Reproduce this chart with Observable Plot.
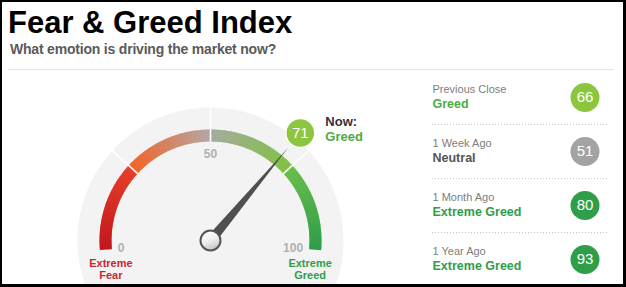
<!DOCTYPE html>
<html>
<head>
<meta charset="utf-8">
<script src="https://cdn.jsdelivr.net/npm/d3@7"></script>
<script src="https://cdn.jsdelivr.net/npm/@observablehq/plot@0.6"></script>
<style>
  html, body { margin: 0; padding: 0; background: #fff; }
  #card { position: relative; width: 626px; height: 287px; overflow: hidden; background: #fff;
          font-family: "Liberation Sans", Arial, sans-serif; }
  #frame { position: absolute; left: 0; top: 0; width: 626px; height: 287px; box-sizing: border-box;
           border-style: solid; border-color: #000; border-width: 2px 3px 3px 2px; pointer-events: none; z-index: 5; }
  #title { position: absolute; left: 8px; top: 7.1px; font-size: 31px; line-height: 31px; font-weight: bold;
           color: #000; white-space: nowrap; }
  #subtitle { position: absolute; left: 10px; top: 41.5px; font-size: 14px; line-height: 14px; font-weight: bold;
              color: #5a5a5a; letter-spacing: -0.2px; white-space: nowrap; }
  #rule { position: absolute; left: 8px; top: 69px; width: 606px; height: 1px; background: #e6e6e6; }
  #gauge { position: absolute; left: 0; top: 70px; }
  #history { position: absolute; left: 420px; top: 70px; }
</style>
</head>
<body>
<div id="card">
  <div id="title">Fear &amp; Greed Index</div>
  <div id="subtitle">What emotion is driving the market now?</div>
  <div id="rule"></div>
  <div id="gauge"></div>
  <div id="history"></div>
  <div id="frame"></div>
</div>
<script>
// ---- data ----
const zoneBounds = [0, 25, 50, 75, 100];
const gaugeTicks = [0, 50, 100];
const ratingNames = ["Extreme Fear", "Fear", "Neutral", "Greed", "Extreme Greed"];
const ratingThresholds = [25, 45, 55, 75];
const currentValue = 71;
const historyPeriods = ["Previous Close", "1 Week Ago", "1 Month Ago", "1 Year Ago"];
const historyValues = [66, 51, 80, 93];

// ---- styles ----
const FONT = "'Liberation Sans', Arial, sans-serif";
const zoneColors = [
  ["#c3161f", "#e6402a"],
  ["#f26424", "#b5a6a4"],
  ["#a6ab9e", "#80c242"],
  ["#6abf4c", "#2e9d48"]
];
const bubbleColor = {
  "Extreme Fear": "#c8202a", "Fear": "#f26522", "Neutral": "#a3a3a3",
  "Greed": "#8cc63f", "Extreme Greed": "#2f9e48"
};
const ratingTextColor = {
  "Extreme Fear": "#c62833", "Fear": "#e8562a", "Neutral": "#555555",
  "Greed": "#4dab45", "Extreme Greed": "#2f9e48"
};

const rating = d3.scaleThreshold().domain(ratingThresholds).range(ratingNames);

// ---- gauge geometry ----
const GW = 420, GH = 217;       // gauge svg size
const CX = 210, CY = 170;       // pivot inside the gauge svg
const START = 185, SPAN = 190;  // degrees: value 0 sits slightly below the left horizontal
const R_BG = 133, R_IN = 99, R_OUT = 111, R_NEEDLE = 121, R_BUBBLE = 140;
const rad = v => (START - SPAN * v / 100) * Math.PI / 180;
const polar = (r, v) => [r * Math.cos(rad(v)), r * Math.sin(rad(v))];

function colorAt(v) {
  let i = 0;
  while (i < zoneBounds.length - 2 && v >= zoneBounds[i + 1]) i++;
  const t = (v - zoneBounds[i]) / (zoneBounds[i + 1] - zoneBounds[i]);
  return d3.interpolateRgb(zoneColors[i][0], zoneColors[i][1])(t);
}

// background disk
const disk = d3.range(0, 361, 2).map(deg => [R_BG * Math.cos(deg * Math.PI / 180), R_BG * Math.sin(deg * Math.PI / 180)]);

// arc made of short overlapping chords
const STEP = 0.5;
const arcPieces = d3.range(zoneBounds[0], zoneBounds[zoneBounds.length - 1], STEP).map(v => ({
  v0: v, v1: Math.min(zoneBounds[zoneBounds.length - 1], v + STEP * 1.6), color: colorAt(v + STEP / 2)
}));
const R_MID = (R_IN + R_OUT) / 2;

// needle polygon
const a = rad(currentValue), HALF = 5;
const needle = [
  [HALF * Math.cos(a + Math.PI / 2), HALF * Math.sin(a + Math.PI / 2)],
  [R_NEEDLE * Math.cos(a), R_NEEDLE * Math.sin(a)],
  [HALF * Math.cos(a - Math.PI / 2), HALF * Math.sin(a - Math.PI / 2)]
];

const endLabels = [
  {v: zoneBounds[0], text: ratingNames[0]},
  {v: zoneBounds[zoneBounds.length - 1], text: ratingNames[ratingNames.length - 1]}
];

const gauge = Plot.plot({
  width: GW, height: GH,
  margin: 0,
  x: {domain: [-CX, GW - CX], range: [0, GW], axis: null},
  y: {domain: [CY - GH, CY], range: [GH, 0], axis: null},
  color: {type: "identity"},
  style: {fontFamily: FONT, background: "transparent", overflow: "visible"},
  marks: [
    Plot.line(disk, {x: d => d[0], y: d => d[1], fill: "#f3f3f3", stroke: "none"}),
    Plot.link(arcPieces, {
      x1: d => polar(R_MID, d.v0)[0], y1: d => polar(R_MID, d.v0)[1],
      x2: d => polar(R_MID, d.v1)[0], y2: d => polar(R_MID, d.v1)[1],
      stroke: d => d.color, strokeWidth: R_OUT - R_IN, strokeLinecap: "butt"
    }),
    Plot.link(zoneBounds.slice(1, -1), {
      x1: v => polar(R_IN - 0.5, v)[0], y1: v => polar(R_IN - 0.5, v)[1],
      x2: v => polar(R_BG + 1, v)[0], y2: v => polar(R_BG + 1, v)[1],
      stroke: "#ffffff", strokeWidth: 1.6
    }),
    // tick labels
    Plot.text(gaugeTicks.filter(v => v === zoneBounds[0]), {
      x: v => polar(93, v)[0], y: v => polar(93, v)[1], text: v => String(v),
      textAnchor: "start", fontSize: 12, fontWeight: "bold", fill: "#b0b0b0"
    }),
    Plot.text(gaugeTicks.filter(v => v === zoneBounds[zoneBounds.length - 1]), {
      x: v => polar(93, v)[0], y: v => polar(93, v)[1], text: v => String(v),
      textAnchor: "end", fontSize: 12, fontWeight: "bold", fill: "#b0b0b0"
    }),
    Plot.text(gaugeTicks.filter(v => v !== zoneBounds[0] && v !== zoneBounds[zoneBounds.length - 1]), {
      x: v => polar(86.5, v)[0], y: v => polar(86.5, v)[1], text: v => String(v),
      textAnchor: "middle", fontSize: 12, fontWeight: "bold", fill: "#b0b0b0"
    }),
    // extreme labels under the arc ends
    Plot.text(endLabels, {
      x: d => polar(100, d.v)[0], y: d => polar(R_MID, d.v)[1], dy: 9.25,
      text: d => d.text.replace(" ", "\n"), lineAnchor: "top", lineHeight: 1.06,
      fontSize: 11, fontWeight: "bold", fill: d => ratingTextColor[d.text]
    }),
    // needle and pivot
    Plot.line(needle, {x: d => d[0], y: d => d[1], fill: "#4f4f4f", stroke: "none"}),
    Plot.dot([[0, 0]], {x: d => d[0], y: d => d[1], r: 10, fill: "url(#pivot-fill)", stroke: "#555", strokeWidth: 2}),
    // current value bubble
    Plot.dot([currentValue], {
      x: v => polar(R_BUBBLE, v)[0], y: v => polar(R_BUBBLE, v)[1], r: 14.5,
      fill: v => bubbleColor[rating(v)], stroke: "#ffffff", strokeWidth: 1.5
    }),
    Plot.text([currentValue], {
      x: v => polar(R_BUBBLE, v)[0], y: v => polar(R_BUBBLE, v)[1],
      text: v => String(v), fill: "#ffffff", fontSize: 15
    }),
    Plot.text([currentValue], {
      x: v => polar(R_BUBBLE, v)[0], y: v => polar(R_BUBBLE, v)[1],
      text: () => "Now:", dx: 25, dy: -11.2, textAnchor: "start",
      fontSize: 13, fontWeight: "bold", fill: "#333333"
    }),
    Plot.text([currentValue], {
      x: v => polar(R_BUBBLE, v)[0], y: v => polar(R_BUBBLE, v)[1],
      text: v => rating(v), dx: 25, dy: 3.9, textAnchor: "start",
      fontSize: 13, fontWeight: "bold", fill: v => ratingTextColor[rating(v)]
    })
  ]
});

// soft shading for the pivot cap
const defs = d3.select(gauge).insert("defs", ":first-child");
const grad = defs.append("linearGradient").attr("id", "pivot-fill")
  .attr("x1", "0").attr("y1", "0").attr("x2", "0.4").attr("y2", "1");
grad.append("stop").attr("offset", "0%").attr("stop-color", "#ffffff");
grad.append("stop").attr("offset", "55%").attr("stop-color", "#f2f2f2");
grad.append("stop").attr("offset", "100%").attr("stop-color", "#c9c9c9");
document.getElementById("gauge").appendChild(gauge);

// ---- history panel ----
const history = historyPeriods.map((period, i) => ({period, value: historyValues[i]}));

const panel = Plot.plot({
  width: 206, height: 217,
  marginLeft: 12, marginRight: 17, marginTop: 0, marginBottom: 0,
  y: {type: "point", domain: historyPeriods, range: [26.7, 189.7], padding: 0, axis: null},
  color: {type: "identity"},
  style: {fontFamily: FONT, background: "transparent", overflow: "visible"},
  marks: [
    Plot.ruleY(historyPeriods.slice(0, -1), {y: d => d, dy: 27.1, stroke: "#c4c4c4", strokeDasharray: "1,2"}),
    Plot.text(history, {
      y: "period", text: "period", frameAnchor: "left", textAnchor: "start",
      dy: -8, fontSize: 11, fill: "#7d7d7d"
    }),
    Plot.text(history, {
      y: "period", text: d => rating(d.value), frameAnchor: "left", textAnchor: "start",
      dy: 6, fontSize: 12.5, fontWeight: "bold", fill: d => ratingTextColor[rating(d.value)]
    }),
    Plot.dot(history, {
      y: "period", frameAnchor: "right", dx: -24.5, r: 14.5,
      fill: d => bubbleColor[rating(d.value)]
    }),
    Plot.text(history, {
      y: "period", frameAnchor: "right", textAnchor: "middle", dx: -24.5, text: d => String(d.value),
      fill: "#ffffff", fontSize: 15
    })
  ]
});
document.getElementById("history").appendChild(panel);
</script>
</body>
</html>
